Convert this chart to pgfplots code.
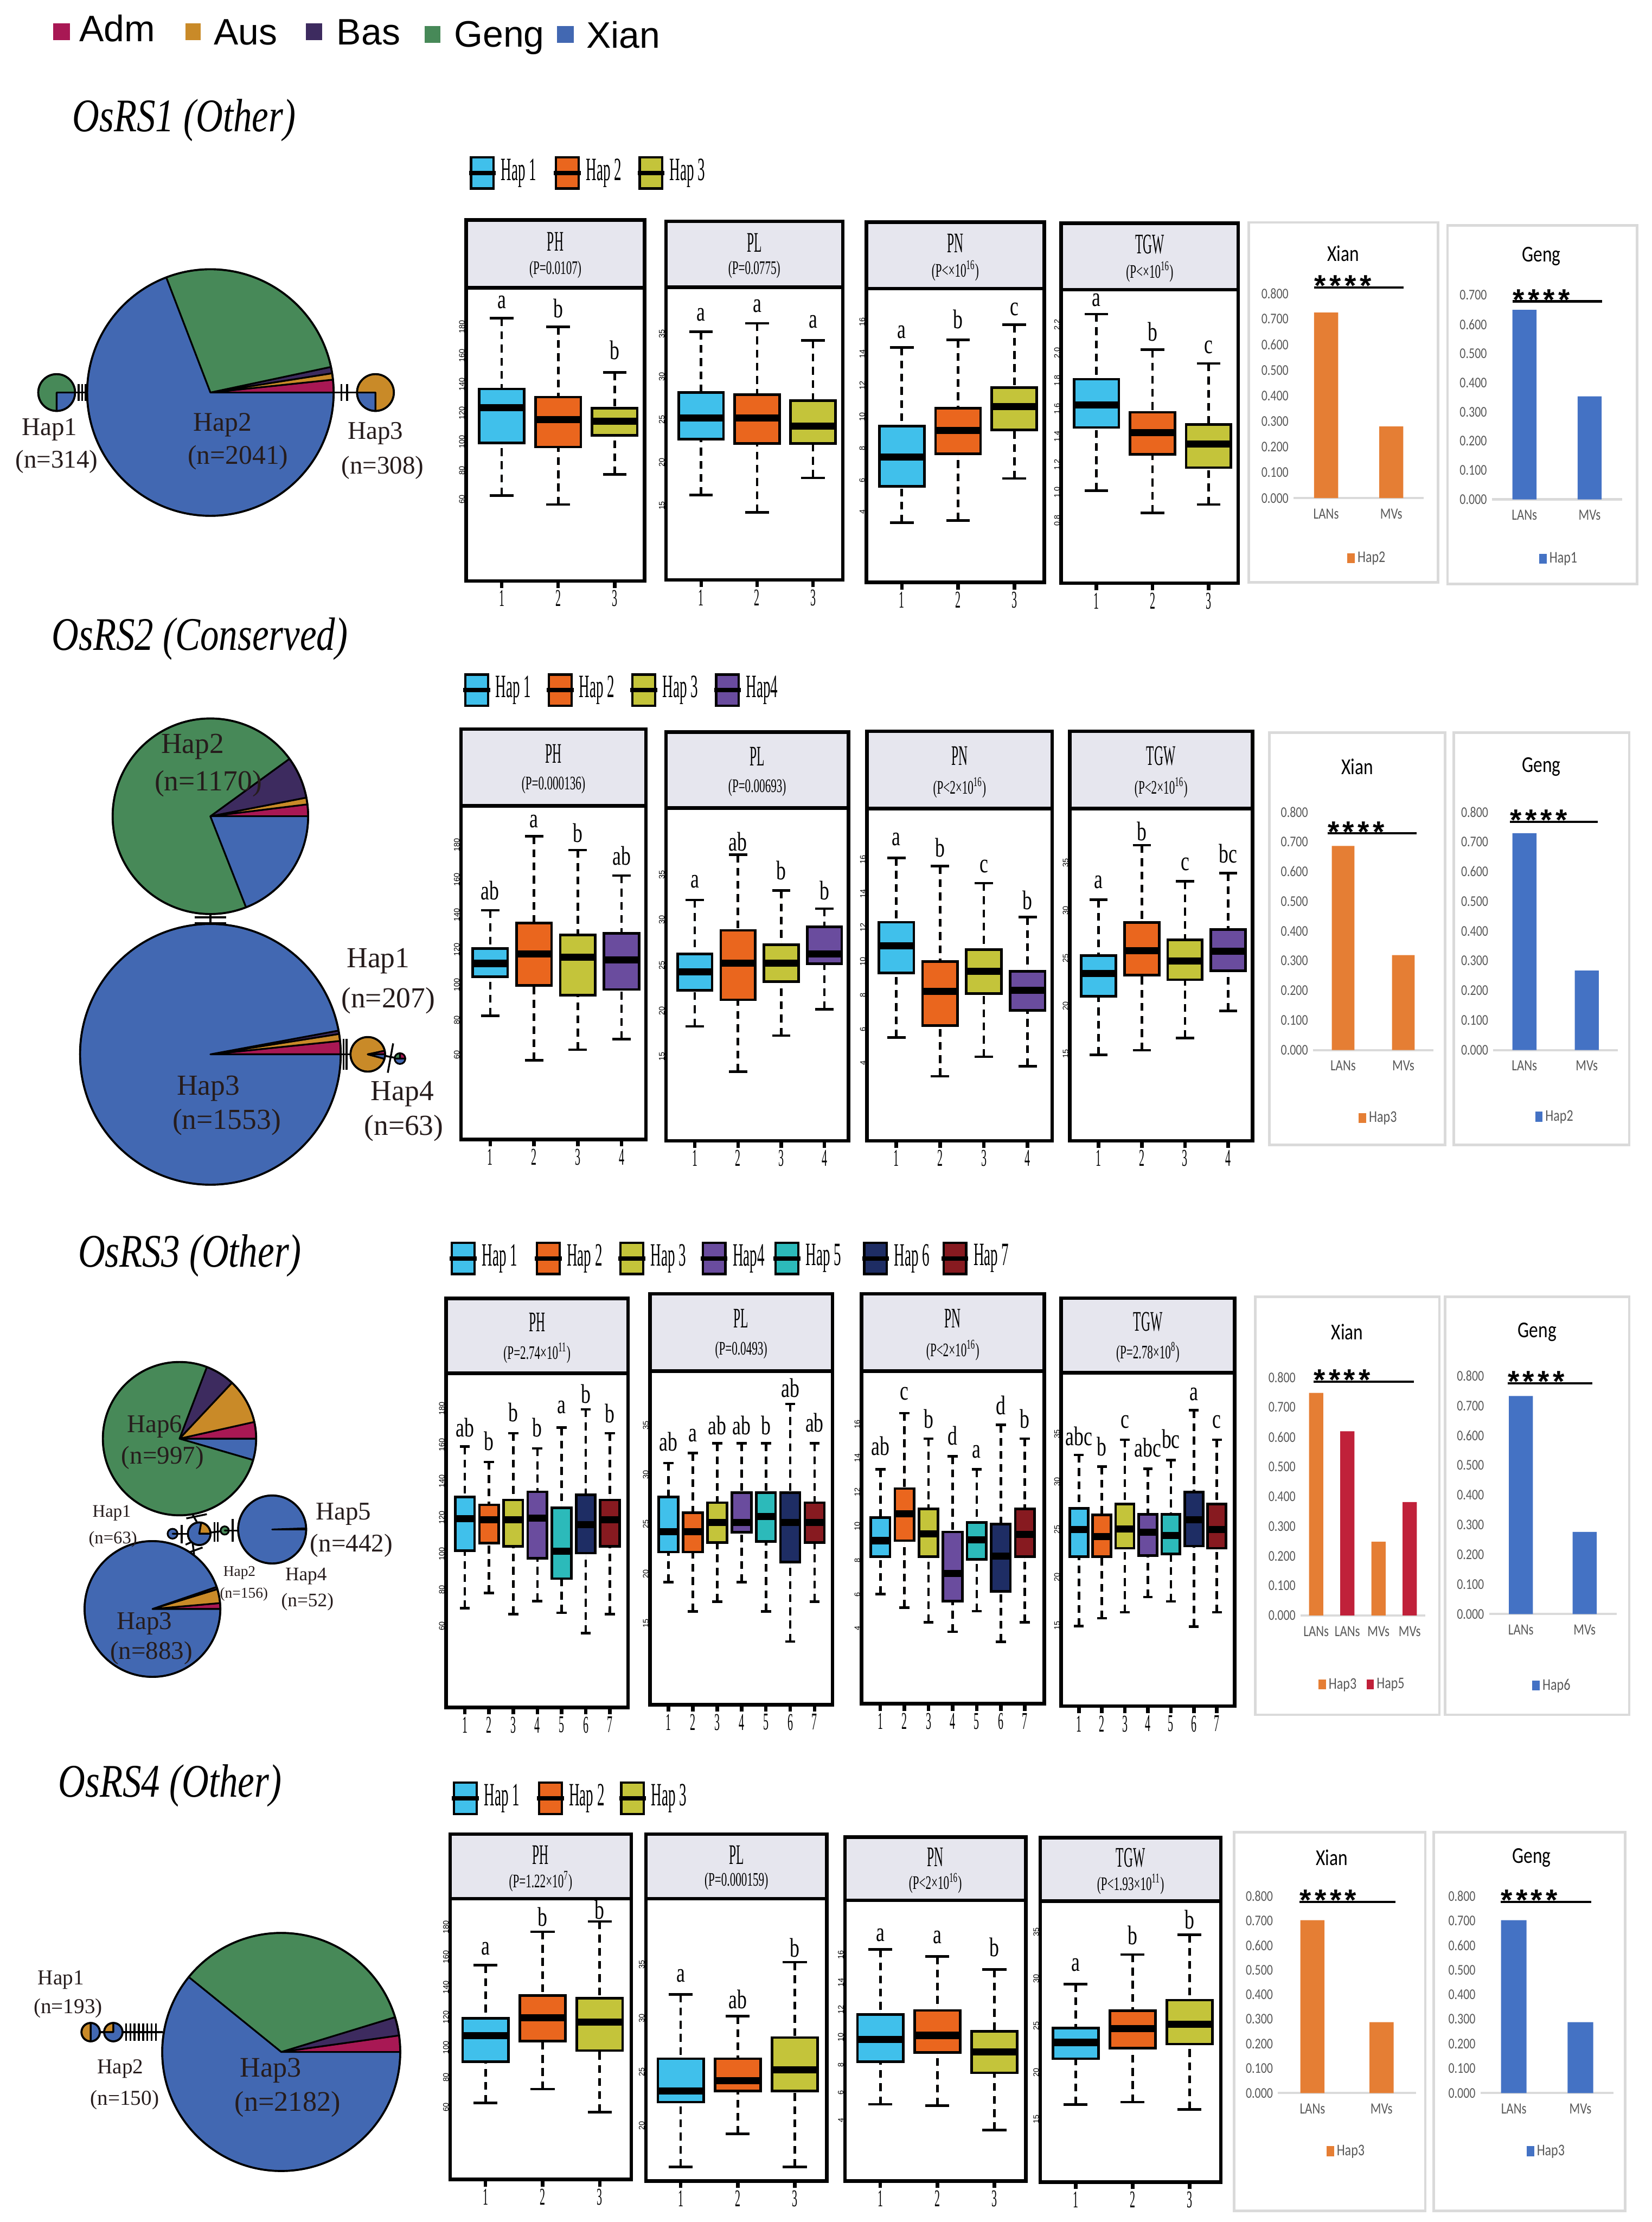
\documentclass[border=0pt]{standalone}
\usepackage{fontspec}
\setmainfont{Liberation Serif}
\newfontfamily\sansf{Liberation Sans}
\newfontfamily\condx[FakeStretch=0.45]{Liberation Serif}
\newfontfamily\cond[FakeStretch=0.6]{Liberation Serif}
\newfontfamily\condl[FakeStretch=0.72]{Liberation Serif}
\newfontfamily\titf[FakeStretch=0.8]{Liberation Serif}
\newfontfamily\calib[FakeStretch=0.8]{Carlito}
\usepackage{pgfplots}
\pgfplotsset{compat=1.18}
\usepgfplotslibrary{statistics}

\definecolor{adm}{RGB}{168,24,84}
\definecolor{aus}{RGB}{201,138,40}
\definecolor{bas}{RGB}{61,43,95}
\definecolor{geng}{RGB}{71,137,88}
\definecolor{xian}{RGB}{66,104,178}
\definecolor{h1}{RGB}{64,192,235}
\definecolor{h2}{RGB}{234,102,30}
\definecolor{h3}{RGB}{196,196,58}
\definecolor{h4}{RGB}{106,76,158}
\definecolor{h5}{RGB}{44,186,186}
\definecolor{h6}{RGB}{30,45,100}
\definecolor{h7}{RGB}{135,26,32}
\definecolor{hdrc}{RGB}{230,230,238}
\definecolor{bor}{RGB}{229,126,52}
\definecolor{bbl}{RGB}{68,114,196}
\definecolor{bred}{RGB}{192,33,58}
\definecolor{lbl}{RGB}{38,28,28}
\definecolor{tk}{RGB}{89,89,89}
\definecolor{frm}{RGB}{218,218,218}

\newcommand{\fs}[1]{\fontsize{#1}{#1}\selectfont}

\pgfplotsset{
 bp/.style={scale only axis, clip=false,
  /pgf/number format/assume math mode=true,
  axis line style={line width=2.5pt},
  xtick align=outside, ytick align=inside,
  tick pos=left,
  major tick length=5pt,
  xtick style={line width=2.5pt, black},
  ytick style={draw=none},
  xticklabel style={font=\condx\fs{17}, inner sep=1.5pt},
  yticklabel style={font=\sansf\fs{5.5}, rotate=90, anchor=south, inner sep=0.8pt, xshift=-1.4pt},
  boxplot/draw direction=y,
  boxplot/box extend=0.8,
  boxplot/whisker extend=0.42,
  boxplot/every median/.style={line width=5pt},
  boxplot/draw/lower whisker/.code={%
    \draw[line width=1.8pt, dash pattern=on 5.5pt off 3.8pt] (boxplot cs:\pgfplotsboxplotvalue{lower whisker}) -- (boxplot cs:\pgfplotsboxplotvalue{lower quartile});
    \draw[line width=1.8pt, solid] (boxplot whisker cs:\pgfplotsboxplotvalue{lower whisker},0) -- (boxplot whisker cs:\pgfplotsboxplotvalue{lower whisker},1);},
  boxplot/draw/upper whisker/.code={%
    \draw[line width=1.8pt, dash pattern=on 5.5pt off 3.8pt] (boxplot cs:\pgfplotsboxplotvalue{upper whisker}) -- (boxplot cs:\pgfplotsboxplotvalue{upper quartile});
    \draw[line width=1.8pt, solid] (boxplot whisker cs:\pgfplotsboxplotvalue{upper whisker},0) -- (boxplot whisker cs:\pgfplotsboxplotvalue{upper whisker},1);},
 },
 barax/.style={scale only axis, clip=false, ymin=0, enlargelimits=false,
  /pgf/number format/assume math mode=true, scaled y ticks=false,
  axis x line*=bottom, axis y line*=left,
  y axis line style={draw=none}, x axis line style={line width=1.6pt, draw=frm, -},
  tick style={draw=none},
  yticklabel style={font=\calib\fs{10.5}, text=tk, /pgf/number format/fixed, /pgf/number format/fixed zerofill, /pgf/number format/precision=3},
  xticklabel style={font=\calib\fs{11}, text=tk, yshift=-4pt},
  ytick={0,0.1,0.2,0.3,0.4,0.5,0.6,0.7,0.8},
  legend style={draw=none, fill=none, font=\calib\fs{11.5}, text=tk, legend columns=-1, anchor=center,
    /tikz/every even column/.append style={column sep=5pt}},
 },
 sqleg/.style={legend image code/.code={\fill[##1] (0pt,-3.5pt) rectangle (5.2pt,3.5pt);}},
}

\newcommand{\bx}[7]{\addplot[fill=#7, draw=black, line width=1.8pt, boxplot prepared={draw position=#1, lower whisker=#2, lower quartile=#3, median=#4, upper quartile=#5, upper whisker=#6}] coordinates {};}
\newcommand{\lab}[1]{\addplot[draw=none, mark=none, forget plot, nodes near coords, point meta=explicit symbolic, nodes near coords style={font=\condl\fs{19}, anchor=center, inner sep=0pt}] table[meta=l, row sep=\\] {x y l\\ #1};}
\newcommand{\hdr}[3]{%
  \draw[line width=2.5pt, fill=hdrc] (rel axis cs:0,1) rectangle ([yshift=#3pt]rel axis cs:1,1);
  \node[font=\condx\fs{20}, inner sep=0pt] at ([yshift=0.68*#3pt]rel axis cs:0.5,1) {#1};
  \node[font=\cond\fs{13.5}, inner sep=0pt] at ([yshift=0.27*#3pt]rel axis cs:0.5,1) {#2};}
\newcommand{\hl}[4]{\begin{scope}[shift={(#1pt,-#2pt)}]
  \filldraw[fill=#3, draw=black, line width=1.6pt] (-8pt,-11pt) rectangle (8pt,11pt);
  \draw[line width=3pt] (-9.5pt,0pt) -- (9.5pt,0pt);
  \node[anchor=west, font=\condx\fs{23}, inner sep=0pt] at (13pt,0pt) {#4};
\end{scope}}
\newcommand{\psec}[6]{\filldraw[fill=#6, draw=black, line width=1.2pt, line join=round] (axis cs:#1,-#2) -- ++(#4:#3pt) arc[start angle=#4, end angle=#5, radius=#3pt] -- cycle;}
\newcommand{\pcirc}[3]{\draw[line width=1.4pt] (axis cs:#1,-#2) circle[radius=#3pt];}
\newcommand{\seg}[4]{\draw[line width=1.3pt] (axis cs:#1,-#2) -- (axis cs:#3,-#4);}
\newcommand{\tx}[4]{\node[text=lbl, font=\fs{#3}, inner sep=0pt] at (#1pt,-#2pt) {#4};}
\newcommand{\stars}{*\hspace{2.5pt}*\hspace{2.5pt}*\hspace{2.5pt}*}
\newcommand{\sig}[3]{\addplot[black, line width=1.6pt, forget plot] coordinates {(#1,#3) (#2,#3)};
  \node[font=\sansf\bfseries\fs{21}, anchor=base west, inner sep=0pt, yshift=-6pt] at (axis cs:#1,#3) {\stars};}

\begin{document}
\begin{tikzpicture}
\path[use as bounding box] (0pt,0pt) rectangle (1166pt,-1568pt);

%================ pies (haplotype networks) ================
\begin{axis}[hide axis, scale only axis, width=1166pt, height=1568pt, xmin=0, xmax=1166, ymin=-1568, ymax=0, at={(0pt,-1568pt)}, anchor=south west, clip=false]
% Row 1
\seg{53}{277}{62}{277}
\seg{55.5}{271}{55.5}{283}\seg{58}{271}{58}{283}\seg{60.5}{271}{60.5}{283}
\seg{235}{277}{252}{277}
\seg{241}{271}{241}{283}\seg{245}{271}{245}{283}
\psec{148.5}{277}{87}{0}{6}{adm}
\psec{148.5}{277}{87}{6}{9}{aus}
\psec{148.5}{277}{87}{9}{12}{bas}
\psec{148.5}{277}{87}{12}{111}{geng}
\psec{148.5}{277}{87}{111}{360}{xian}
\pcirc{148.5}{277}{87}
\psec{40}{277}{13}{0}{270}{geng}
\psec{40}{277}{13}{270}{360}{xian}
\pcirc{40}{277}{13}
\psec{265}{277}{13}{-90}{180}{aus}
\psec{265}{277}{13}{180}{270}{xian}
\pcirc{265}{277}{13}
% Row 2
\seg{148.5}{644}{148.5}{653}
\seg{137.5}{647.4}{159.5}{647.4}\seg{137.5}{651.5}{159.5}{651.5}
\psec{148.5}{576}{69}{0}{7}{adm}
\psec{148.5}{576}{69}{7}{11}{aus}
\psec{148.5}{576}{69}{11}{36}{bas}
\psec{148.5}{576}{69}{36}{291.4}{geng}
\psec{148.5}{576}{69}{291.4}{360}{xian}
\pcirc{148.5}{576}{69}
\seg{240}{744}{248}{744}
\seg{242.4}{733}{242.4}{755}\seg{244.6}{733}{244.6}{755}
\seg{271.5}{745}{279}{746.5}
\seg{273.7}{757}{277.5}{736.3}
\psec{148.5}{744}{92}{0}{5.9}{adm}
\psec{148.5}{744}{92}{5.9}{9}{aus}
\psec{148.5}{744}{92}{9}{10.5}{bas}
\psec{148.5}{744}{92}{10.5}{360}{xian}
\pcirc{148.5}{744}{92}
\psec{259.6}{744}{12.2}{12}{345}{aus}
\psec{259.6}{744}{12.2}{0}{12}{adm}
\psec{259.6}{744}{12.2}{345}{360}{xian}
\pcirc{259.6}{744}{12.2}
\psec{282.3}{747}{3.8}{0}{90}{adm}
\psec{282.3}{747}{3.8}{90}{180}{geng}
\psec{282.3}{747}{3.8}{180}{360}{xian}
% Row 3
\seg{125}{1082.3}{133}{1082.3}
\seg{128.3}{1076}{128.3}{1089}
\seg{139.5}{1075}{135.5}{1068}
\seg{131.5}{1071.5}{146}{1068.5}
\seg{136}{1089}{137}{1097}
\seg{131}{1090}{140}{1086}\seg{132}{1096}{143}{1092}
\seg{148.5}{1081.5}{156}{1080.5}
\seg{151.5}{1074}{151.5}{1088}\seg{153.8}{1074}{153.8}{1088}
\seg{161.5}{1080}{168.5}{1080}
\seg{164.2}{1072}{164.2}{1088}
\psec{126.7}{1015.2}{54.1}{-16.2}{0}{xian}
\psec{126.7}{1015.2}{54.1}{0}{12.6}{adm}
\psec{126.7}{1015.2}{54.1}{12.6}{46.8}{aus}
\psec{126.7}{1015.2}{54.1}{46.8}{69.1}{bas}
\psec{126.7}{1015.2}{54.1}{69.1}{343.8}{geng}
\pcirc{126.7}{1015.2}{54.1}
\psec{107.6}{1135.4}{47.9}{0}{5}{adm}
\psec{107.6}{1135.4}{47.9}{5}{17}{aus}
\psec{107.6}{1135.4}{47.9}{17}{19}{bas}
\psec{107.6}{1135.4}{47.9}{19}{360}{xian}
\pcirc{107.6}{1135.4}{47.9}
\psec{192.1}{1079.3}{24}{0}{2}{bas}
\psec{192.1}{1079.3}{24}{2}{360}{xian}
\pcirc{192.1}{1079.3}{24}
\psec{140.6}{1082.3}{8}{0}{80}{aus}
\psec{140.6}{1082.3}{8}{80}{360}{xian}
\pcirc{140.6}{1082.3}{8}
\psec{121.8}{1082.3}{3.5}{0}{360}{xian}
\psec{158.6}{1080}{2.9}{0}{360}{geng}
% Row 4
\seg{70}{1434}{74}{1434}
\seg{86}{1434}{115}{1434}
\seg{89}{1428}{89}{1440}\seg{92}{1428}{92}{1440}\seg{95}{1428}{95}{1440}\seg{98}{1428}{98}{1440}
\seg{101}{1428}{101}{1440}\seg{104}{1428}{104}{1440}\seg{107}{1428}{107}{1440}\seg{110}{1428}{110}{1440}
\psec{198.5}{1448}{84}{0}{8}{adm}
\psec{198.5}{1448}{84}{8}{17}{bas}
\psec{198.5}{1448}{84}{17}{141}{geng}
\psec{198.5}{1448}{84}{141}{360}{xian}
\pcirc{198.5}{1448}{84}
\psec{64}{1434}{6.5}{90}{270}{aus}
\psec{64}{1434}{6.5}{270}{450}{xian}
\pcirc{64}{1434}{6.5}
\psec{80}{1434}{6.5}{90}{180}{aus}
\psec{80}{1434}{6.5}{180}{450}{xian}
\pcirc{80}{1434}{6.5}
\end{axis}

%================ Row 1 boxplots ================
\begin{axis}[bp, at={(329pt,-409.9pt)}, width=126pt, height=206.9pt, xmin=0.37, xmax=3.53, ymin=2, ymax=205.7, xtick={1,2,3}, ytick={60,80,...,180}]
\hdr{PH}{(P=0.0107)}{47.7}
\bx{1}{61.3}{97.9}{122.5}{135.3}{184.4}{h1}
\bx{2}{55.0}{95.0}{114.0}{129.7}{178.4}{h2}
\bx{3}{75.9}{103.1}{112.8}{122.0}{146.9}{h3}
\lab{1 195.5 a\\ 2 191.4 b\\ 3 162.4 b\\}
\end{axis}
\begin{axis}[bp, at={(470pt,-409.3pt)}, width=124.8pt, height=206.6pt, xmin=0.37, xmax=3.53, ymin=6.1, ymax=40.2, xtick={1,2,3}, ytick={15,20,...,35}]
\hdr{PL}{(P=0.0775)}{46.5}
\bx{1}{16.0}{22.5}{25.0}{27.96}{35.0}{h1}
\bx{2}{14.0}{22.0}{25.0}{27.7}{36.0}{h2}
\bx{3}{18.0}{22.0}{24.0}{27.0}{34.0}{h3}
\lab{1 37.0 a\\ 2 38.0 a\\ 3 36.2 a\\}
\end{axis}
\begin{axis}[bp, at={(611.5pt,-411pt)}, width=125.5pt, height=207.4pt, xmin=0.37, xmax=3.53, ymin=-0.6, ymax=18.0, xtick={1,2,3}, ytick={4,6,...,16}]
\hdr{PN}{(P<×10\textsuperscript{16})}{46.8}
\bx{1}{3.18}{5.48}{7.34}{9.30}{14.27}{h1}
\bx{2}{3.31}{7.53}{9.03}{10.43}{14.76}{h2}
\bx{3}{5.98}{9.06}{10.54}{11.74}{15.71}{h3}
\lab{1 15.25 a\\ 2 16.05 b\\ 3 16.7 c\\}
\end{axis}
\begin{axis}[bp, at={(749pt,-411.6pt)}, width=125pt, height=207.1pt, xmin=0.37, xmax=3.53, ymin=0.336, ymax=2.436, xtick={1,2,3}, ytick={0.8,1.0,1.2,1.4,1.6,1.8,2.0,2.2}, yticklabels={0.8,1.0,1.2,1.4,1.6,1.8,2.0,2.2}]
\hdr{TGW}{(P<×10\textsuperscript{16})}{47}
\bx{1}{1.0}{1.451}{1.613}{1.796}{2.262}{h1}
\bx{2}{0.84}{1.26}{1.413}{1.56}{2.009}{h2}
\bx{3}{0.9}{1.164}{1.331}{1.473}{1.909}{h3}
\lab{1 2.364 a\\ 2 2.136 b\\ 3 2.027 c\\}
\end{axis}

%================ Row 2 boxplots ================
\begin{axis}[bp, at={(325.3pt,-804pt)}, width=130.7pt, height=235.4pt, xmin=0.33, xmax=4.56, ymin=10.6, ymax=201.2, xtick={1,2,3,4}, ytick={60,80,...,180}]
\hdr{PH}{(P=0.000136)}{54.1}
\bx{1}{81.2}{103.6}{111.1}{119.7}{141.5}{h1}
\bx{2}{55.7}{98.5}{116.4}{134.2}{183.8}{h2}
\bx{3}{61.8}{92.9}{114.7}{127.4}{175.9}{h3}
\bx{4}{67.9}{96.2}{113.1}{128.3}{161.3}{h4}
\lab{1 152.7 ab\\ 2 192.4 a\\ 3 185.8 b\\ 4 172.6 ab\\}
\end{axis}
\begin{axis}[bp, at={(470pt,-805pt)}, width=129pt, height=234.8pt, xmin=0.33, xmax=4.56, ymin=5.5, ymax=42.1, xtick={1,2,3,4}, ytick={15,20,...,35}]
\hdr{PL}{(P=0.00693)}{53.6}
\bx{1}{18.09}{22.06}{24.07}{26.04}{31.98}{h1}
\bx{2}{13.1}{21.01}{25.02}{28.64}{36.97}{h2}
\bx{3}{17.07}{23.02}{25.02}{27.05}{33.03}{h3}
\bx{4}{19.96}{24.99}{26.04}{29.02}{31.03}{h4}
\lab{1 33.98 a\\ 2 38.4 ab\\ 3 35.25 b\\ 4 33.0 b\\}
\end{axis}
\begin{axis}[bp, at={(612pt,-805pt)}, width=130.6pt, height=234.4pt, xmin=0.33, xmax=4.56, ymin=-0.7, ymax=18.9, xtick={1,2,3,4}, ytick={4,6,...,16}]
\hdr{PN}{(P<2×10\textsuperscript{16})}{54.6}
\bx{1}{5.4}{9.2}{10.8}{12.2}{16.0}{h1}
\bx{2}{3.11}{6.1}{8.1}{9.88}{15.5}{h2}
\bx{3}{4.26}{7.98}{9.3}{10.58}{14.5}{h3}
\bx{4}{3.69}{6.99}{8.19}{9.3}{12.5}{h4}
\lab{1 17.08 a\\ 2 16.6 b\\ 3 15.5 c\\ 4 13.5 b\\}
\end{axis}
\begin{axis}[bp, at={(755pt,-805pt)}, width=129pt, height=234.4pt, xmin=0.33, xmax=4.56, ymin=5.7, ymax=40.5, xtick={1,2,3,4}, ytick={15,20,...,35}]
\hdr{TGW}{(P<2×10\textsuperscript{16})}{54.6}
\bx{1}{14.7}{20.82}{23.21}{25.09}{30.94}{h1}
\bx{2}{15.18}{23.06}{25.61}{28.58}{36.67}{h2}
\bx{3}{16.45}{22.58}{24.55}{26.76}{32.88}{h3}
\bx{4}{19.3}{23.52}{25.55}{27.82}{33.73}{h4}
\lab{1 32.8 a\\ 2 38.1 b\\ 3 34.7 c\\ 4 35.8 bc\\}
\end{axis}

%================ Row 3 boxplots ================
\begin{axis}[bp, at={(314.8pt,-1204.8pt)}, width=128.5pt, height=235.8pt, xmin=0.22, xmax=7.75, ymin=14.3, ymax=198.3, xtick={1,...,7}, ytick={60,80,...,180}]
\hdr{PH}{(P=2.74×10\textsuperscript{11})}{52.8}
\bx{1}{68.8}{100.6}{118.2}{130.1}{158.0}{h1}
\bx{2}{77.2}{104.8}{117.5}{125.8}{149.4}{h2}
\bx{3}{65.6}{103.0}{117.5}{128.5}{165.2}{h3}
\bx{4}{72.8}{96.3}{118.6}{133.0}{156.9}{h4}
\bx{5}{66.4}{85.2}{100.3}{124.2}{168.4}{h5}
\bx{6}{55.2}{99.2}{115.0}{131.4}{178.4}{h6}
\bx{7}{65.6}{103.0}{117.5}{128.5}{165.2}{h7}
\lab{1 168.4 ab\\ 2 160.9 b\\ 3 176.8 b\\ 4 168.4 b\\ 5 179.5 a\\ 6 186.9 b\\ 7 176.0 b\\}
\end{axis}
\begin{axis}[bp, at={(458.7pt,-1202.9pt)}, width=128.9pt, height=235.3pt, xmin=0.235, xmax=7.735, ymin=6.6, ymax=40.25, xtick={1,...,7}, ytick={15,20,...,35}]
\hdr{PL}{(P=0.0493)}{54.6}
\bx{1}{18.97}{22.0}{24.04}{27.54}{30.98}{h1}
\bx{2}{16.02}{22.0}{24.04}{25.96}{32.0}{h2}
\bx{3}{16.98}{22.96}{25.0}{26.98}{32.96}{h3}
\bx{4}{18.97}{23.98}{25.0}{28.0}{32.96}{h4}
\bx{5}{16.02}{23.05}{25.58}{28.0}{32.96}{h5}
\bx{6}{12.96}{21.0}{25.0}{28.0}{36.95}{h6}
\bx{7}{16.98}{22.96}{25.0}{26.98}{32.96}{h7}
\lab{1 33.16 ab\\ 2 33.75 a\\ 3 34.77 ab\\ 4 34.77 ab\\ 5 34.77 b\\ 6 38.56 ab\\ 7 35.06 ab\\}
\end{axis}
\begin{axis}[bp, at={(608pt,-1202.3pt)}, width=129pt, height=234.7pt, xmin=0.213, xmax=7.8, ymin=-0.54, ymax=18.99, xtick={1,...,7}, ytick={4,6,...,16}]
\hdr{PN}{(P<2×10\textsuperscript{16})}{54.6}
\bx{1}{5.9}{8.1}{9.04}{10.4}{13.22}{h1}
\bx{2}{5.1}{9.04}{10.62}{12.1}{16.53}{h2}
\bx{3}{4.25}{8.1}{9.43}{10.9}{15.03}{h3}
\bx{4}{3.69}{5.49}{7.1}{9.55}{14.0}{h4}
\bx{5}{4.9}{7.94}{9.09}{10.1}{13.22}{h5}
\bx{6}{3.1}{6.07}{8.12}{10.02}{15.85}{h6}
\bx{7}{4.25}{8.1}{9.4}{10.9}{15.03}{h7}
\lab{1 14.6 ab\\ 2 17.66 c\\ 3 16.2 b\\ 4 15.2 d\\ 5 14.27 a\\ 6 16.98 d\\ 7 16.2 b\\}
\end{axis}
\begin{axis}[bp, at={(749pt,-1204pt)}, width=122.4pt, height=235.4pt, xmin=0.23, xmax=7.77, ymin=6.34, ymax=41.2, xtick={1,...,7}, ytick={15,20,...,35}]
\hdr{TGW}{(P=2.78×10\textsuperscript{8})}{52.6}
\bx{1}{14.73}{21.97}{24.8}{27.0}{32.59}{h1}
\bx{2}{15.54}{21.97}{24.08}{26.34}{31.38}{h2}
\bx{3}{16.15}{22.84}{24.86}{27.46}{34.19}{h3}
\bx{4}{17.74}{22.09}{24.5}{26.4}{31.14}{h4}
\bx{5}{17.29}{22.27}{24.2}{26.4}{32.07}{h5}
\bx{6}{14.64}{23.08}{25.8}{28.73}{37.26}{h6}
\bx{7}{16.15}{22.84}{24.8}{27.46}{34.19}{h7}
\lab{1 34.55 abc\\ 2 33.49 b\\ 3 36.06 c\\ 4 33.34 abc\\ 5 34.25 bc\\ 6 38.92 a\\ 7 36.06 c\\}
\end{axis}

%================ Row 4 boxplots ================
\begin{axis}[bp, at={(317.7pt,-1538pt)}, width=127.8pt, height=198.1pt, xmin=0.38, xmax=3.55, ymin=10.8, ymax=197.5, xtick={1,2,3}, ytick={60,80,...,180}]
\hdr{PH}{(P=1.22×10\textsuperscript{7})}{45.7}
\bx{1}{61.7}{89.1}{106.6}{118.0}{153.4}{h1}
\bx{2}{70.9}{102.9}{118.3}{133.2}{175.6}{h2}
\bx{3}{55.5}{96.6}{115.6}{131.3}{182.4}{h3}
\lab{1 164.3 a\\ 2 185.4 b\\ 3 190.2 b\\}
\end{axis}
\begin{axis}[bp, at={(455.9pt,-1539pt)}, width=127.7pt, height=199.1pt, xmin=0.39, xmax=3.56, ymin=14.64, ymax=40.97, xtick={1,2,3}, ytick={20,25,30,35}]
\hdr{PL}{(P=0.000159)}{45.7}
\bx{1}{15.96}{22.0}{23.03}{26.04}{32.04}{h1}
\bx{2}{19.02}{23.03}{23.99}{26.04}{30.03}{h2}
\bx{3}{15.96}{23.03}{25.01}{28.02}{35.05}{h3}
\lab{1 33.8 a\\ 2 31.6 ab\\ 3 36.4 b\\}
\end{axis}
\begin{axis}[bp, at={(596.4pt,-1539pt)}, width=127.6pt, height=198pt, xmin=0.38, xmax=3.55, ymin=-0.56, ymax=19.8, xtick={1,2,3}, ytick={4,6,...,16}]
\hdr{PN}{(P<2×10\textsuperscript{16})}{44.6}
\bx{1}{5.0}{8.09}{9.7}{11.51}{16.25}{h1}
\bx{2}{4.91}{8.76}{10.0}{11.81}{15.73}{h2}
\bx{3}{3.12}{7.29}{8.8}{10.3}{14.79}{h3}
\lab{1 17.28 a\\ 2 17.14 a\\ 3 16.39 b\\}
\end{axis}
\begin{axis}[bp, at={(734.3pt,-1539.8pt)}, width=127.4pt, height=198.2pt, xmin=0.38, xmax=3.55, ymin=8.09, ymax=38.08, xtick={1,2,3}, ytick={15,20,...,35}]
\hdr{TGW}{(P<1.93×10\textsuperscript{11})}{44.8}
\bx{1}{16.36}{21.26}{23.0}{24.52}{29.21}{h1}
\bx{2}{16.62}{22.38}{24.47}{26.4}{32.39}{h2}
\bx{3}{15.83}{22.82}{24.96}{27.52}{34.5}{h3}
\lab{1 31.3 a\\ 2 34.43 b\\ 3 36.12 b\\}
\end{axis}

%================ Bar charts ================
\draw[frm, line width=1.8pt] (881.5pt,-157pt) rectangle (1015pt,-411pt);
\draw[frm, line width=1.8pt] (1021.7pt,-159pt) rectangle (1155.5pt,-412pt);
\draw[frm, line width=1.8pt] (896pt,-517pt) rectangle (1020pt,-808pt);
\draw[frm, line width=1.8pt] (1026pt,-517pt) rectangle (1150pt,-808pt);
\draw[frm, line width=1.8pt] (886pt,-915pt) rectangle (1016pt,-1210pt);
\draw[frm, line width=1.8pt] (1020pt,-915pt) rectangle (1150pt,-1210pt);
\draw[frm, line width=1.8pt] (871pt,-1293pt) rectangle (1006pt,-1560pt);
\draw[frm, line width=1.8pt] (1012pt,-1293pt) rectangle (1147pt,-1560pt);
\node[font=\calib\fs{16}] at (948pt,-179pt) {Xian};
\node[font=\calib\fs{16}] at (1088pt,-181pt) {Geng};
\node[font=\calib\fs{16}] at (958pt,-541pt) {Xian};
\node[font=\calib\fs{16}] at (1088pt,-541pt) {Geng};
\node[font=\calib\fs{16}] at (951pt,-940pt) {Xian};
\node[font=\calib\fs{16}] at (1085pt,-940pt) {Geng};
\node[font=\calib\fs{16}] at (940pt,-1311pt) {Xian};
\node[font=\calib\fs{16}] at (1081pt,-1311pt) {Geng};

\begin{axis}[barax, at={(913pt,-351.5pt)}, width=92pt, height=144.5pt, xmin=0.5, xmax=2.5, ymax=0.8, xtick={1,2}, xticklabels={LANs,MVs}, legend style={at={(0.57,-0.294)}}]
\addplot[ybar, bar width=17pt, bar shift=0pt, fill=bor, draw=none, sqleg] coordinates {(1,0.725) (2,0.280)};
\addlegendentry{Hap2}
\sig{0.82}{2.19}{0.823}
\end{axis}
\begin{axis}[barax, at={(1053pt,-352.4pt)}, width=92pt, height=144.1pt, xmin=0.5, xmax=2.5, ymax=0.7, ytick={0,0.1,0.2,0.3,0.4,0.5,0.6,0.7}, xtick={1,2}, xticklabels={LANs,MVs}, legend style={at={(0.52,-0.29)}}]
\addplot[ybar, bar width=17pt, bar shift=0pt, fill=bbl, draw=none, sqleg] coordinates {(1,0.650) (2,0.353)};
\addlegendentry{Hap1}
\sig{0.82}{2.19}{0.679}
\end{axis}

\begin{axis}[barax, at={(926.75pt,-741pt)}, width=85pt, height=168pt, xmin=0.5, xmax=2.5, ymax=0.8, xtick={1,2}, xticklabels={LANs,MVs}, legend style={at={(0.55,-0.286)}}]
\addplot[ybar, bar width=16pt, bar shift=0pt, fill=bor, draw=none, sqleg] coordinates {(1,0.686) (2,0.319)};
\addlegendentry{Hap3}
\sig{0.74}{2.22}{0.728}
\end{axis}
\begin{axis}[barax, at={(1054pt,-741pt)}, width=88pt, height=168pt, xmin=0.5, xmax=2.5, ymax=0.8, xtick={1,2}, xticklabels={LANs,MVs}, legend style={at={(0.5,-0.28)}}]
\addplot[ybar, bar width=17pt, bar shift=0pt, fill=bbl, draw=none, sqleg] coordinates {(1,0.729) (2,0.267)};
\addlegendentry{Hap2}
\sig{0.77}{2.18}{0.767}
\end{axis}

\begin{axis}[barax, at={(918pt,-1140pt)}, width=88pt, height=168pt, xmin=0.5, xmax=4.5, ymax=0.8, xtick={1,2,3,4}, xticklabels={LANs,LANs,MVs,MVs}, legend style={at={(0.5,-0.29)}}]
\addplot[ybar, bar width=10pt, bar shift=0pt, fill=bor, draw=none, sqleg] coordinates {(1,0.748) (3,0.248)};
\addlegendentry{Hap3}
\addplot[ybar, bar width=10pt, bar shift=0pt, fill=bred, draw=none, sqleg] coordinates {(2,0.619) (4,0.381)};
\addlegendentry{Hap5}
\sig{0.91}{4.14}{0.786}
\end{axis}
\begin{axis}[barax, at={(1051pt,-1139pt)}, width=90pt, height=168pt, xmin=0.5, xmax=2.5, ymax=0.8, xtick={1,2}, xticklabels={LANs,MVs}, legend style={at={(0.5,-0.3)}}]
\addplot[ybar, bar width=17pt, bar shift=0pt, fill=bbl, draw=none, sqleg] coordinates {(1,0.733) (2,0.276)};
\addlegendentry{Hap6}
\sig{0.79}{2.12}{0.776}
\end{axis}

\begin{axis}[barax, at={(902pt,-1477pt)}, width=97.5pt, height=139pt, xmin=0.5, xmax=2.5, ymax=0.8, xtick={1,2}, xticklabels={LANs,MVs}, legend style={at={(0.5,-0.295)}}]
\addplot[ybar, bar width=17pt, bar shift=0pt, fill=bor, draw=none, sqleg] coordinates {(1,0.702) (2,0.288)};
\addlegendentry{Hap3}
\sig{0.81}{2.2}{0.777}
\end{axis}
\begin{axis}[barax, at={(1045pt,-1477pt)}, width=94pt, height=139pt, xmin=0.5, xmax=2.5, ymax=0.8, xtick={1,2}, xticklabels={LANs,MVs}, legend style={at={(0.5,-0.295)}}]
\addplot[ybar, bar width=18pt, bar shift=0pt, fill=bbl, draw=none, sqleg] coordinates {(1,0.702) (2,0.288)};
\addlegendentry{Hap3}
\sig{0.8}{2.16}{0.777}
\end{axis}

%================ Text, titles, legends ================
\fill[adm] (37.6pt,-16.3pt) rectangle (49.3pt,-28.4pt);
\node[anchor=base west, font=\sansf\fs{26}, inner sep=0pt] at (55.8pt,-29.3pt) {Adm};
\fill[aus] (130.8pt,-16.3pt) rectangle (141.8pt,-28.4pt);
\node[anchor=base west, font=\sansf\fs{26}, inner sep=0pt] at (150.8pt,-31.4pt) {Aus};
\fill[bas] (215.8pt,-16.3pt) rectangle (227.3pt,-28.4pt);
\node[anchor=base west, font=\sansf\fs{26}, inner sep=0pt] at (237.5pt,-31.4pt) {Bas};
\fill[geng] (299.7pt,-18.2pt) rectangle (311pt,-30.2pt);
\node[anchor=base west, font=\sansf\fs{26}, inner sep=0pt] at (320.4pt,-33pt) {Geng};
\fill[xian] (393pt,-18.2pt) rectangle (405pt,-30.2pt);
\node[anchor=base west, font=\sansf\fs{26}, inner sep=0pt] at (413.8pt,-33.7pt) {Xian};

\node[font=\titf\itshape\fs{33}, inner sep=0pt] at (130pt,-85pt) {OsRS1 (Other)};
\node[font=\titf\itshape\fs{33}, inner sep=0pt] at (141pt,-451pt) {OsRS2 (Conserved)};
\node[font=\titf\itshape\fs{33}, inner sep=0pt] at (134pt,-886pt) {OsRS3 (Other)};
\node[font=\titf\itshape\fs{33}, inner sep=0pt] at (120pt,-1260pt) {OsRS4 (Other)};

\hl{340.5}{122}{h1}{Hap 1}\hl{400.5}{122}{h2}{Hap 2}\hl{459.5}{122}{h3}{Hap 3}
\hl{336.5}{487}{h1}{Hap 1}\hl{395.5}{487}{h2}{Hap 2}\hl{454.5}{487}{h3}{Hap 3}\hl{513.5}{487}{h4}{Hap4}
\hl{327}{888}{h1}{Hap 1}\hl{387}{888}{h2}{Hap 2}\hl{446}{888}{h3}{Hap 3}\hl{504}{888}{h4}{Hap4}
\hl{555.5}{888}{h5}{Hap 5}\hl{618}{888}{h6}{Hap 6}\hl{674}{888}{h7}{Hap 7}
\hl{328.5}{1269}{h1}{Hap 1}\hl{388.5}{1269}{h2}{Hap 2}\hl{446.5}{1269}{h3}{Hap 3}

\tx{35}{303}{18}{Hap1}\tx{40}{326}{18}{(n=314)}
\tx{157}{300}{19}{Hap2}\tx{168}{323}{19}{(n=2041)}
\tx{265}{306}{18}{Hap3}\tx{270}{330}{18}{(n=308)}
\tx{136}{527}{20.5}{Hap2}\tx{147}{553}{20.5}{(n=1170)}
\tx{267}{678}{20.5}{Hap1}\tx{274}{706}{20.5}{(n=207)}
\tx{147}{768}{20.5}{Hap3}\tx{160}{792}{20.5}{(n=1553)}
\tx{284}{772}{20.5}{Hap4}\tx{285}{796}{20.5}{(n=63)}
\tx{109.2}{1006.6}{18}{Hap6}\tx{114.8}{1028.8}{18}{(n=997)}
\tx{78.9}{1067.8}{12.5}{Hap1}\tx{79.7}{1086.2}{12.5}{(n=63)}
\tx{242.4}{1068.6}{18}{Hap5}\tx{248}{1090.7}{18}{(n=442)}
\tx{169}{1110}{10.5}{Hap2}\tx{172.2}{1125.2}{10.5}{(n=156)}
\tx{216}{1112.2}{13.5}{Hap4}\tx{217}{1130.6}{13.5}{(n=52)}
\tx{102}{1145.9}{18}{Hap3}\tx{106.8}{1166.5}{18}{(n=883)}
\tx{43}{1397}{15}{Hap1}\tx{48}{1417}{15}{(n=193)}
\tx{85}{1460}{15}{Hap2}\tx{88}{1482}{15}{(n=150)}
\tx{191}{1461}{20}{Hap3}\tx{203}{1485}{20}{(n=2182)}
\end{tikzpicture}
\end{document}
